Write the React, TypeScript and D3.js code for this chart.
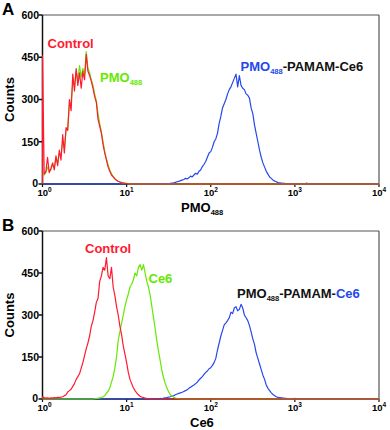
import * as d3 from "d3";

// channels per decade of the flow cytometer histogram
const CH = 50;

// panel A: PMO488 fluorescence
const topControlStart = 0;
const topControl = [
  455, 35, 45, 95, 40, 55, 75, 50, 100, 65, 120, 85, 175, 110, 200, 190, 300, 260, 390, 330,
  410, 350, 395, 340, 400, 370, 460, 400, 385, 365, 340, 310, 290, 230, 205, 180, 140, 110, 85, 60,
  45, 32, 25, 18, 13, 9, 7, 5, 3, 2, 1, 1, 0,
];
const topPmoStart = 0;
const topPmo = [
  30, 32, 40, 60, 45, 50, 70, 60, 90, 75, 110, 100, 150, 130, 190, 200, 280, 290, 360, 350,
  400, 370, 420, 380, 410, 390, 470, 410, 395, 370, 350, 320, 295, 250, 215, 185, 150, 115, 90, 68,
  50, 36, 27, 20, 14, 10, 7, 5, 4, 3, 2, 1, 0,
];
const topConjStart = 75;
const topConj = [
  1, 2, 3, 4, 6, 8, 9, 12, 14, 16, 20, 18, 22, 28, 25, 32, 38, 35, 45, 50,
  62, 70, 80, 95, 110, 115, 130, 150, 160, 180, 215, 240, 270, 285, 300, 320, 335, 345, 360, 375,
  390, 345, 385, 350, 340, 335, 320, 315, 305, 270, 250, 210, 180, 150, 120, 95, 75, 60, 45, 35,
  25, 20, 14, 10, 8, 5, 4, 3, 2, 2, 1, 1, 0, 1, 0, 0, 0, 0, 0, 0, 0, 0, 3, 0,
];

// panel B: Ce6 fluorescence
const botControlStart = 0;
const botControl = [
  8, 5, 3, 4, 2, 4, 3, 5, 4, 6, 5, 7, 8, 12, 15, 25, 30, 35, 45, 55,
  70, 80, 90, 110, 130, 155, 180, 200, 225, 260, 280, 310, 345, 360, 420, 440, 470, 460, 505, 440,
  430, 470, 400, 370, 330, 300, 260, 230, 190, 160, 130, 95, 70, 55, 40, 30, 22, 15, 10, 7,
  5, 3, 2, 1, 0,
];
const botCe6Start = 30;
const botCe6 = [
  0, 1, 2, 2, 4, 5, 8, 12, 20, 28, 40, 60, 80, 110, 150, 210, 240, 270, 300, 330,
  355, 375, 400, 410, 425, 450, 440, 470, 480, 460, 480, 450, 420, 400, 370, 330, 290, 250, 205, 170,
  135, 100, 75, 55, 38, 25, 15, 10, 6, 3, 2, 1, 0,
];
const botConjStart = 68;
const botConj = [
  0, 1, 2, 1, 3, 4, 5, 7, 8, 10, 12, 15, 18, 20, 22, 24, 27, 30, 33, 38,
  42, 46, 50, 55, 60, 68, 74, 80, 88, 95, 100, 108, 112, 120, 130, 145, 175, 200, 225, 245,
  265, 272, 280, 290, 310, 305, 325, 330, 315, 320, 338, 325, 300, 290, 280, 262, 240, 215, 195, 165,
  145, 125, 105, 85, 70, 50, 38, 30, 22, 16, 12, 8, 6, 5, 4, 3, 2, 2, 1, 1, 0, 1, 2, 0,
];

const yTicks = [0, 150, 300, 450, 600];
const xTicks = [1, 10, 100, 1000, 10000];

const RED = "#ff1a30";
const GREEN = "#66e800";
const BLUE = "#2448ec";
const FONT = "'Liberation Sans', Arial, sans-serif";

function toPoints(start: number, counts: number[]): [number, number][] {
  const pts: [number, number][] = counts.map((c, i) => [Math.pow(10, (start + i) / CH), c]);
  pts.unshift([1, 0]);
  pts.push([10000, 0]);
  return pts;
}

const x = d3.scaleLog().domain([1, 10000]).range([42.5, 379]);

function Panel({ top, bottom, letter, curves, children, axisTitle }: any) {
  const y = d3.scaleLinear().domain([0, 600]).range([bottom, top]);
  const line = d3
    .line<[number, number]>()
    .x((d) => x(d[0]))
    .y((d) => y(d[1]));
  const midY = (top + bottom) / 2;
  return (
    <g fontFamily={FONT} fontWeight="bold">
      <text x={2} y={top} fontSize={17}>
        {letter}
      </text>
      {/* frame */}
      <line x1={x(1)} x2={x(10000)} y1={top} y2={top} stroke="#555" strokeWidth={1.2} />
      <line x1={x(10000)} x2={x(10000)} y1={top} y2={bottom} stroke="#555" strokeWidth={1.2} />
      <line x1={x(1)} x2={x(1)} y1={top} y2={bottom} stroke="#111" strokeWidth={1.5} />
      <line x1={x(1)} x2={x(10000)} y1={bottom} y2={bottom} stroke="#111" strokeWidth={1.5} />
      {yTicks.map((t) => (
        <g key={t}>
          <line x1={x(1) - 4} x2={x(1)} y1={y(t)} y2={y(t)} stroke="#111" strokeWidth={1.5} />
          <text
            x={x(1) - (t === 0 ? 4.5 : 3.5)}
            y={y(t) + (t === 0 ? 2.5 : 3.8)}
            fontSize={10.5}
            textAnchor="end"
          >
            {t}
          </text>
        </g>
      ))}
      {xTicks.map((t, i) => (
        <g key={t}>
          <line x1={x(t)} x2={x(t)} y1={bottom} y2={bottom + 3} stroke="#111" strokeWidth={1.2} />
          <text x={x(t) + (i === 0 ? 2 : 0)} y={bottom + 12} fontSize={9.5} textAnchor="middle">
            10
            <tspan fontSize={6.5} dy={-4}>
              {i}
            </tspan>
          </text>
        </g>
      ))}
      <text
        transform={`translate(14,${midY}) rotate(-90)`}
        fontSize={13}
        textAnchor="middle"
      >
        Counts
      </text>
      {curves.map((c: any, i: number) => (
        <path
          key={i}
          d={line(toPoints(c.start, c.counts)) || ""}
          fill="none"
          stroke={c.color}
          strokeWidth={1.2}
          strokeLinejoin="round"
        />
      ))}
      {axisTitle}
      {children}
    </g>
  );
}

export default function App() {
  return (
    <svg
      width={390}
      height={430}
      style={{ position: "absolute", left: 0, top: 0, background: "#fff" }}
    >
      <Panel
        top={15}
        bottom={184}
        letter="A"
        curves={[
          { start: topConjStart, counts: topConj, color: BLUE },
          { start: topPmoStart, counts: topPmo, color: GREEN },
          { start: topControlStart, counts: topControl, color: RED },
        ]}
        axisTitle={
          <text x={181} y={211.5} fontSize={13}>
            PMO<tspan fontSize={7.5} dy={3}>488</tspan>
          </text>
        }
      >
        <text x={47.5} y={48} fontSize={13} fill={RED}>
          Control
        </text>
        <text x={100} y={82} fontSize={13} fill={GREEN}>
          PMO<tspan fontSize={7.5} dy={3}>488</tspan>
        </text>
        <text x={240.5} y={71} fontSize={13} fill="#111">
          <tspan fill={BLUE}>PMO</tspan>
          <tspan fill={BLUE} fontSize={7.5} dy={3}>488</tspan>
          <tspan dy={-3}>-PAMAM-Ce6</tspan>
        </text>
      </Panel>
      <Panel
        top={231}
        bottom={399}
        letter="B"
        curves={[
          { start: botConjStart, counts: botConj, color: BLUE },
          { start: botCe6Start, counts: botCe6, color: GREEN },
          { start: botControlStart, counts: botControl, color: RED },
        ]}
        axisTitle={
          <text x={190} y={427} fontSize={13}>
            Ce6
          </text>
        }
      >
        <text x={85} y={253} fontSize={13} fill={RED}>
          Control
        </text>
        <text x={148.5} y={283} fontSize={13} fill={GREEN}>
          Ce6
        </text>
        <text x={237} y={298} fontSize={13} fill="#111">
          PMO<tspan fontSize={7.5} dy={3}>488</tspan>
          <tspan dy={-3}>-PAMAM-</tspan>
          <tspan fill={BLUE}>Ce6</tspan>
        </text>
      </Panel>
    </svg>
  );
}
